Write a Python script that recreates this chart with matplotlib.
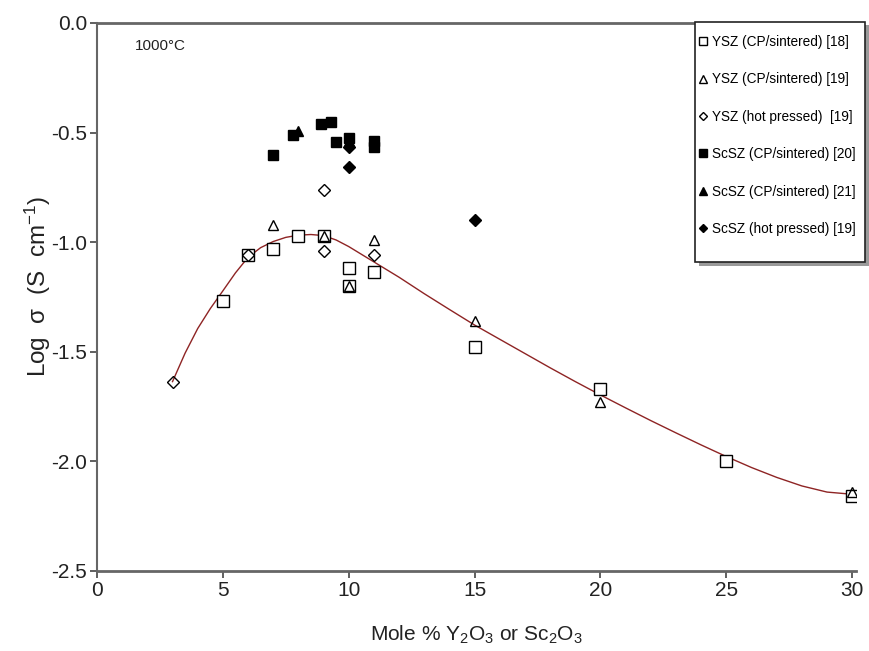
import numpy as np
import matplotlib.pyplot as plt
from matplotlib.patches import Rectangle

plt.rcParams['font.family'] = ['Liberation Sans', 'DejaVu Sans']
plt.rcParams['mathtext.fontset'] = 'custom'
plt.rcParams['mathtext.rm'] = 'Liberation Sans'
plt.rcParams['mathtext.it'] = 'Liberation Sans'
plt.rcParams['mathtext.default'] = 'regular'

# YSZ (CP/sintered) [18] - open squares
ysz18_x = [5, 6, 7, 8, 9, 10, 10, 11, 15, 20, 25, 30]
ysz18_y = [-1.27, -1.06, -1.03, -0.97, -0.97, -1.12, -1.20, -1.135, -1.48, -1.67, -2.00, -2.16]

# YSZ (CP/sintered) [19] - open triangles
ysz19_x = [7, 9, 10, 11, 15, 20, 30]
ysz19_y = [-0.92, -0.97, -1.20, -0.99, -1.36, -1.73, -2.14]

# YSZ (hot pressed) [19] - open diamonds
yszhp_x = [3, 6, 9, 9, 11]
yszhp_y = [-1.64, -1.06, -0.76, -1.04, -1.06]

# ScSZ (CP/sintered) [20] - filled squares
scsz20_x = [7, 7.8, 8.9, 9.3, 9.5, 10, 11, 11]
scsz20_y = [-0.60, -0.51, -0.46, -0.45, -0.545, -0.525, -0.54, -0.565]

# ScSZ (CP/sintered) [21] - filled triangles
scsz21_x = [8, 10]
scsz21_y = [-0.495, -0.54]

# ScSZ (hot pressed) [19] - filled diamonds
scszhp_x = [10, 10, 15]
scszhp_y = [-0.565, -0.655, -0.90]

# fitted curve
fit_x = [3, 3.5, 4, 4.5, 5, 5.5, 6, 6.5, 7, 7.5, 8, 8.5, 9, 9.5, 10, 11, 12, 13, 14,
         15, 16, 17, 18, 19, 20, 21, 22, 23, 24, 25, 26, 27, 28, 29, 30]
fit_y = [-1.636, -1.506, -1.394, -1.303, -1.222, -1.140, -1.069, -1.025, -0.997, -0.978,
         -0.968, -0.965, -0.970, -0.990, -1.020, -1.090, -1.160, -1.235, -1.307, -1.378,
         -1.443, -1.508, -1.573, -1.636, -1.697, -1.756, -1.814, -1.870, -1.925, -1.978,
         -2.028, -2.073, -2.112, -2.140, -2.150]

fig = plt.figure(figsize=(8.7, 6.51), dpi=100)
ax = fig.add_axes([0.1115, 0.1229, 0.8724, 0.8418])

ax.plot(fit_x, fit_y, color='#8e2424', lw=1.0, zorder=1)

ax.plot(ysz18_x, ysz18_y, 's', mfc='white', mec='black', mew=1.0, ms=8.5,
        ls='none', label='YSZ (CP/sintered) [18]', zorder=3)
ax.plot(ysz19_x, ysz19_y, '^', mfc='none', mec='black', mew=1.0, ms=7.5,
        ls='none', label='YSZ (CP/sintered) [19]', zorder=4)
ax.plot(yszhp_x, yszhp_y, 'D', mfc='none', mec='black', mew=1.0, ms=6,
        ls='none', label='YSZ (hot pressed)  [19]', zorder=4)
ax.plot(scsz20_x, scsz20_y, 's', color='black', ms=7,
        ls='none', label='ScSZ (CP/sintered) [20]', zorder=3)
ax.plot(scsz21_x, scsz21_y, '^', color='black', ms=7,
        ls='none', label='ScSZ (CP/sintered) [21]', zorder=3)
ax.plot(scszhp_x, scszhp_y, 'D', color='black', ms=6,
        ls='none', label='ScSZ (hot pressed) [19]', zorder=3)

ax.set_xlim(0, 30.15)
ax.set_ylim(-2.5, 0.0)
ax.set_xticks([0, 5, 10, 15, 20, 25, 30])
ax.set_yticks([0.0, -0.5, -1.0, -1.5, -2.0, -2.5])
ax.set_yticklabels(['0.0', '-0.5', '-1.0', '-1.5', '-2.0', '-2.5'])
ax.spines['right'].set_visible(False)
for s in ['left', 'bottom', 'top']:
    ax.spines[s].set_color('#666666')
    ax.spines[s].set_linewidth(2.0)
ax.spines['left'].set_linewidth(1.5)
ax.tick_params(direction='out', length=5, width=1.2, labelsize=15, colors='#444444',
               labelcolor='#222222', pad=2)

ax.set_xlabel('Mole % Y$_2$O$_3$ or Sc$_2$O$_3$', fontsize=15, color='#222222',
              labelpad=17)
ax.set_ylabel('Log  σ  (S  cm$^{-1}$)', fontsize=17.5, color='#222222')
ax.yaxis.set_label_coords(-0.058, 0.52)

ax.text(1.5, -0.105, '1000\u00b0C', fontsize=11, color='#222222', va='center')

# legend box drawn as figure patches (shadow + frame), entries placed inside
fig.patches.append(Rectangle((0.803, 0.592), 0.1955, 0.369, transform=fig.transFigure,
                             facecolor='#9a9a9a', edgecolor='none', zorder=0))
fig.patches.append(Rectangle((0.799, 0.5975), 0.1955, 0.3687, transform=fig.transFigure,
                             facecolor='white', edgecolor='#222222', lw=1.2, zorder=1))

leg = fig.legend(loc='upper left', bbox_to_anchor=(697 / 870, 1 - 35 / 651), fontsize=9.8,
                 frameon=False, handletextpad=0.2, handlelength=0.9, borderpad=0,
                 labelspacing=1.72, markerscale=0.75, borderaxespad=0)

fig.savefig('out.png', dpi=100)
